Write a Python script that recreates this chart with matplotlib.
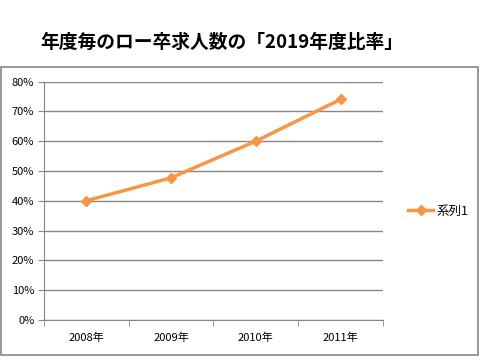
import matplotlib.pyplot as plt
from matplotlib.patches import Rectangle
from matplotlib.ticker import PercentFormatter

plt.rcParams['font.family'] = ['Noto Sans CJK JP', 'DejaVu Sans']

title = "年度毎のロー卒求人数の「2019年度比率」"
years = ["2008年", "2009年", "2010年", "2011年"]
ratio = [0.40, 0.477, 0.60, 0.74]
series_name = "系列1"

W, H = 481, 360
fig = plt.figure(figsize=(W / 100, H / 100), dpi=100)

# chart-area border
fig.patches.append(Rectangle((1 / W, 1 - 355 / H), 477 / W, 288 / H,
                             transform=fig.transFigure, fill=False,
                             edgecolor='#868686', linewidth=1.2))

fig.text(222 / W, 1 - 42 / H, title, ha='center', va='center',
         fontsize=13.5, fontweight='bold')

ax = fig.add_axes([44 / W, 1 - 320 / H, (383 - 44) / W, (320 - 81.5) / H])
x = list(range(len(years)))
line, = ax.plot(x, ratio, color='#F79646', linewidth=2.5, marker='D',
                markersize=5, label=series_name)

ax.set_xlim(-0.5, len(years) - 0.5)
ax.set_ylim(0, 0.8)
ax.set_yticks([i / 10 for i in range(9)])
ax.yaxis.set_major_formatter(PercentFormatter(1.0, decimals=0))
ax.yaxis.grid(True, color='#868686', linewidth=1)
ax.set_axisbelow(True)

ax.set_xticks(x)
ax.set_xticklabels(years)
ax.set_xticks([i - 0.5 for i in range(len(years) + 1)], minor=True)
ax.tick_params(axis='x', which='major', length=0, labelsize=8, pad=9)
ax.tick_params(axis='x', which='minor', length=4, color='#868686')
ax.tick_params(axis='y', length=4, color='#868686', labelsize=8, pad=3)

for side in ['top', 'right']:
    ax.spines[side].set_visible(False)
for side in ['left', 'bottom']:
    ax.spines[side].set_color('#868686')

fig.legend(handles=[line], loc='center left',
           bbox_to_anchor=(397 / W, 1 - 211 / H), frameon=False,
           fontsize=9, handlelength=2.0, handletextpad=0.3)

fig.savefig("out.png", dpi=100)
